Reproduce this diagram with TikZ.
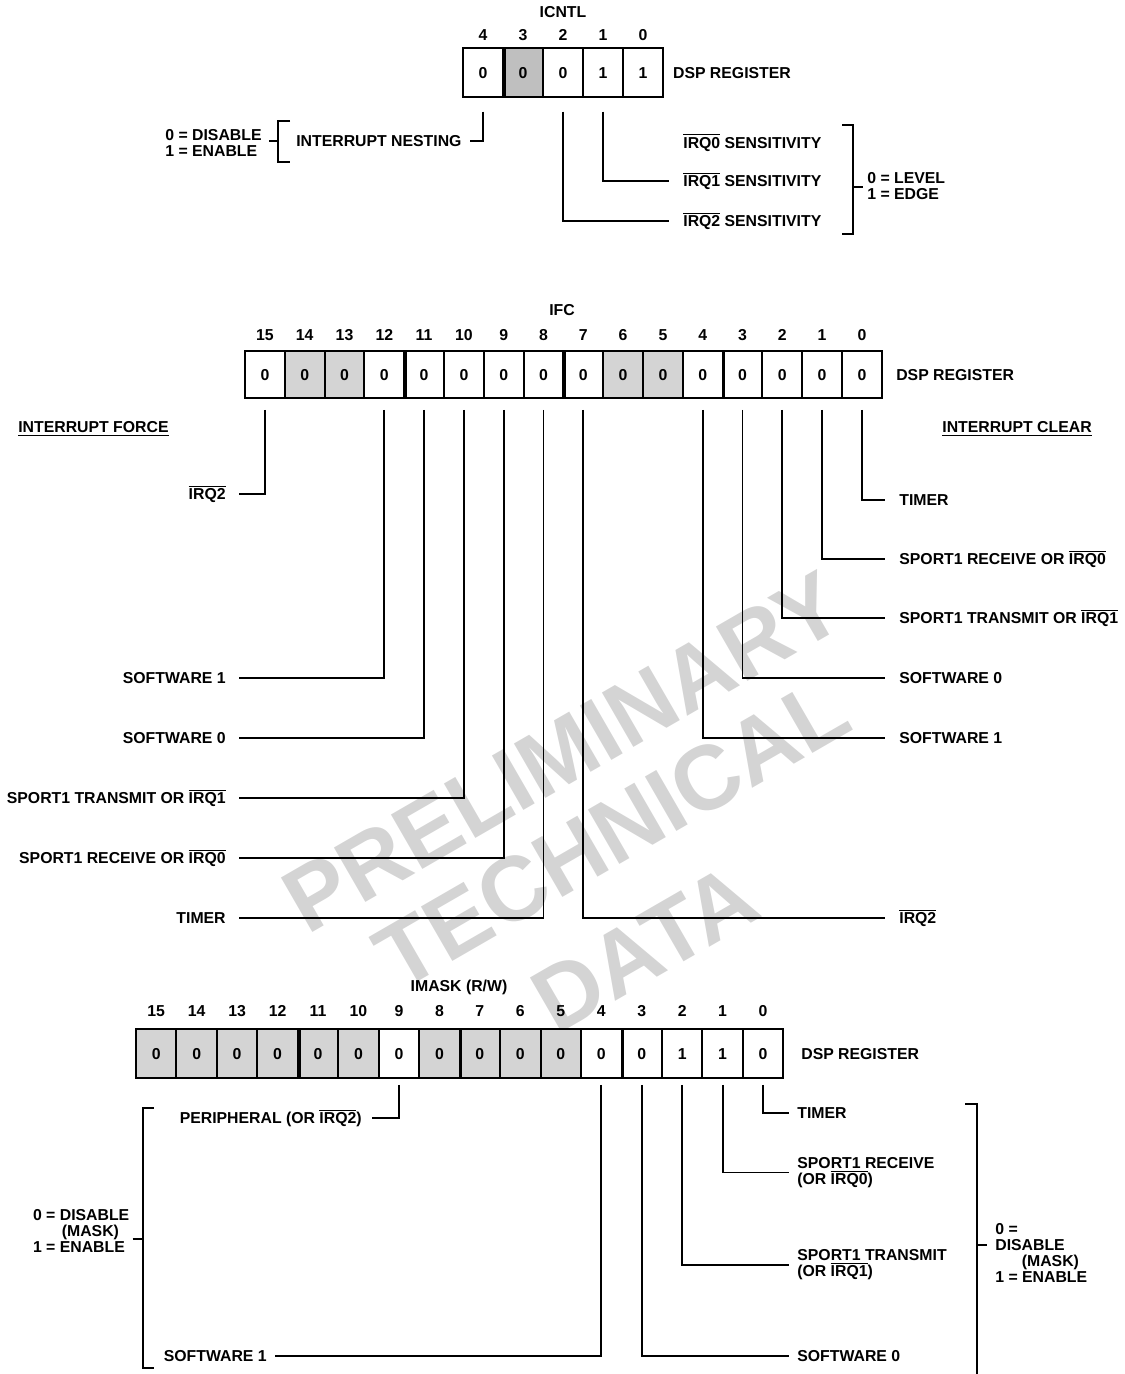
\documentclass[tikz,border=0pt]{standalone}
\usepackage{fontspec}
\setmainfont{Liberation Sans}
\usetikzlibrary{positioning}
\colorlet{lightShade}{black!17}
\colorlet{darkShade}{black!25}
\colorlet{markColor}{black!17}
\newcommand{\labelFont}{\bfseries\fontsize{9}{9.1}\selectfont}
\newcommand{\nsig}[1]{$\overline{\mbox{#1}}$}
\tikzstyle{txt}=[font=\labelFont, inner sep=0pt, text height=6.4pt, text depth=0pt]
\tikzstyle{multi}=[font=\labelFont, inner sep=0pt, align=left]
\tikzstyle{cell}=[rectangle, draw, line width=1.1pt, inner sep=0pt, font=\labelFont,
text height=6.4pt, text depth=0pt]
\tikzstyle{icntlCell}=[minimum width=0.8cm, minimum height=27.8pt]
\tikzstyle{ifcCell}=[minimum width=0.796cm, minimum height=26.7pt]
\tikzstyle{imaskCell}=[minimum width=0.809cm, minimum height=27.8pt]
\tikzstyle{nib}=[line width=2pt]
\tikzstyle{lead}=[line width=1pt]
\tikzstyle{wmark}=[font=\bfseries\fontsize{52}{52}\selectfont, text=markColor, rotate=30, inner sep=0pt]

\begin{document}
\begin{tikzpicture}[x=0.02cm, y=-0.02cm, node distance=5mm]
    \useasboundingbox (0,0) rectangle (1125,1374);
    \node [wmark] at (563,752) {PRELIMINARY};
    \node [wmark] at (612,833) {TECHNICAL};
    \node [wmark] at (645,948) {DATA};

    \node [txt] at (563,12) {ICNTL};
    \foreach \b/\v/\f in {4/0/white, 3/0/darkShade, 2/0/white, 1/1/white, 0/1/white} {
      \node (icntl\b) [cell, icntlCell, fill=\f] at ({483+(4-\b)*40}, 72.8) {\v};
      \node [txt, above=3.9pt of icntl\b] {\b};
    }
    \draw [nib] (icntl4.north east) -- (icntl4.south east);
    \node [txt, right=5pt of icntl0] {DSP REGISTER};
    \node (nestVal) [multi, anchor=west] at (165,142.5) {0 = DISABLE\\1 = ENABLE};
    \node (nest) [txt, anchor=west] at (296,141) {INTERRUPT NESTING};
    \node (irqZeroSens) [txt, anchor=west] at (683,142.7) {\nsig{IRQ0} SENSITIVITY};
    \node (irqOneSens) [txt, anchor=west] at (683,181) {\nsig{IRQ1} SENSITIVITY};
    \node (irqTwoSens) [txt, anchor=west] at (683,221) {\nsig{IRQ2} SENSITIVITY};
    \node (levelVal) [multi, anchor=west] at (867,186) {0 = LEVEL\\1 = EDGE};
    \draw [lead] ([yshift=-7.6pt]icntl4.south) |- ([xshift=4.5pt]nest.east);
    \draw [lead] ([yshift=-7.6pt]icntl2.south) |- ([xshift=-7.9pt]irqTwoSens.west);
    \draw [lead] ([yshift=-7.6pt]icntl1.south) |- ([xshift=-7.9pt]irqOneSens.west);
    \draw [lead] (290,121) -| (278,162) -- (290,162);
    \draw [lead] (269,141) -- (278,141);
    \draw [lead] (842,125) -| (853,234) -- (842,234);
    \draw [lead] (853,187) -- (863,187);

    \node [txt] at (562,310) {IFC};
    \foreach \b/\f in {15/white, 14/lightShade, 13/lightShade, 12/white, 11/white, 10/white,
      9/white, 8/white, 7/white, 6/lightShade, 5/lightShade, 4/white, 3/white, 2/white,
      1/white, 0/white} {
      \node (ifc\b) [cell, ifcCell, fill=\f] at ({264.9+(15-\b)*39.8}, 374.5) {0};
      \node [txt, above=5.3pt of ifc\b] {\b};
    }
    \foreach \b in {12, 8, 4}
      \draw [nib] (ifc\b.north east) -- (ifc\b.south east);
    \node [txt, right=7.5pt of ifc0] {DSP REGISTER};
    \node [txt, anchor=west] at (18,427) {\underline{INTERRUPT FORCE}};
    \node [txt, anchor=west] at (942,427) {\underline{INTERRUPT CLEAR}};
    \foreach \b/\y/\t in {15/494/{\nsig{IRQ2}}, 12/678/{SOFTWARE 1}, 11/738/{SOFTWARE 0},
      10/798/{SPORT1 TRANSMIT OR \nsig{IRQ1}}, 9/858/{SPORT1 RECEIVE OR \nsig{IRQ0}},
      8/918/{TIMER}} {
      \node (force\b) [txt, anchor=east] at (226,\y) {\t};
      \draw [lead] ([yshift=-6.2pt]ifc\b.south) |- ([xshift=7.4pt]force\b.east);
    }
    \foreach \b/\y/\t in {0/500/{TIMER}, 1/559/{SPORT1 RECEIVE OR \nsig{IRQ0}},
      2/618/{SPORT1 TRANSMIT OR \nsig{IRQ1}}, 3/678/{SOFTWARE 0}, 4/738/{SOFTWARE 1},
      7/918/{\nsig{IRQ2}}} {
      \node (clear\b) [txt, anchor=west] at (899,\y) {\t};
      \draw [lead] ([yshift=-6.2pt]ifc\b.south) |- ([xshift=-7.9pt]clear\b.west);
    }

    \node [txt] at (459,986) {IMASK (R/W)};
    \foreach \b/\v/\f in {15/0/lightShade, 14/0/lightShade, 13/0/lightShade, 12/0/lightShade,
      11/0/lightShade, 10/0/lightShade, 9/0/white, 8/0/lightShade, 7/0/lightShade,
      6/0/lightShade, 5/0/lightShade, 4/0/white, 3/0/white, 2/1/white, 1/1/white, 0/0/white} {
      \node (imask\b) [cell, imaskCell, fill=\f] at ({156.2+(15-\b)*40.46}, 1053.4) {\v};
      \node [txt, above=6.1pt of imask\b] {\b};
    }
    \foreach \b in {12, 8, 4}
      \draw [nib] (imask\b.north east) -- (imask\b.south east);
    \node [txt, right=9.5pt of imask0] {DSP REGISTER};
    \node (periph) [txt, anchor=east] at (362,1118) {PERIPHERAL (OR \nsig{IRQ2})};
    \node (maskTimer) [txt, anchor=west] at (797,1113) {TIMER};
    \node (maskRx) [multi, anchor=west] at (797,1172.5) {SPORT1 RECEIVE\\(OR \nsig{IRQ0})};
    \node (maskTx) [multi, anchor=west] at (797,1264.7) {SPORT1 TRANSMIT\\(OR \nsig{IRQ1})};
    \node (maskSwZero) [txt, anchor=west] at (797,1356) {SOFTWARE 0};
    \node (maskSwOne) [txt, anchor=east] at (267,1356) {SOFTWARE 1};
    \node (maskValL) [multi, anchor=west] at (32.7,1230.5) {0 = DISABLE\\\hspace*{16.4pt}(MASK)\\1 = ENABLE};
    \node (maskValR) [multi, anchor=west] at (995,1253) {0 =\\DISABLE\\\hspace*{15.1pt}(MASK)\\1 = ENABLE};
    \draw [lead] ([yshift=-3.4pt]imask9.south) |- ([xshift=5.7pt]periph.east);
    \draw [lead] ([yshift=-3.4pt]imask0.south) |- ([xshift=-4.5pt]maskTimer.west);
    \draw [lead] ([yshift=-3.4pt]imask1.south) |- ([xshift=-4.5pt]maskRx.west);
    \draw [lead] ([yshift=-3.4pt]imask2.south) |- ([xshift=-4.5pt]maskTx.west);
    \draw [lead] ([yshift=-3.4pt]imask3.south) |- ([xshift=-4.5pt]maskSwZero.west);
    \draw [lead] ([yshift=-3.4pt]imask4.south) |- ([xshift=4.5pt]maskSwOne.east);
    \draw [lead] (153.5,1108) -| (142.7,1368) -- (154,1368);
    \draw [lead] (132.7,1239) -- (142.7,1239);
    \draw [lead] (965,1104) -| (976.7,1374);
    \draw [lead] (976.7,1245) -- (986.7,1245);
\end{tikzpicture}
\end{document}
